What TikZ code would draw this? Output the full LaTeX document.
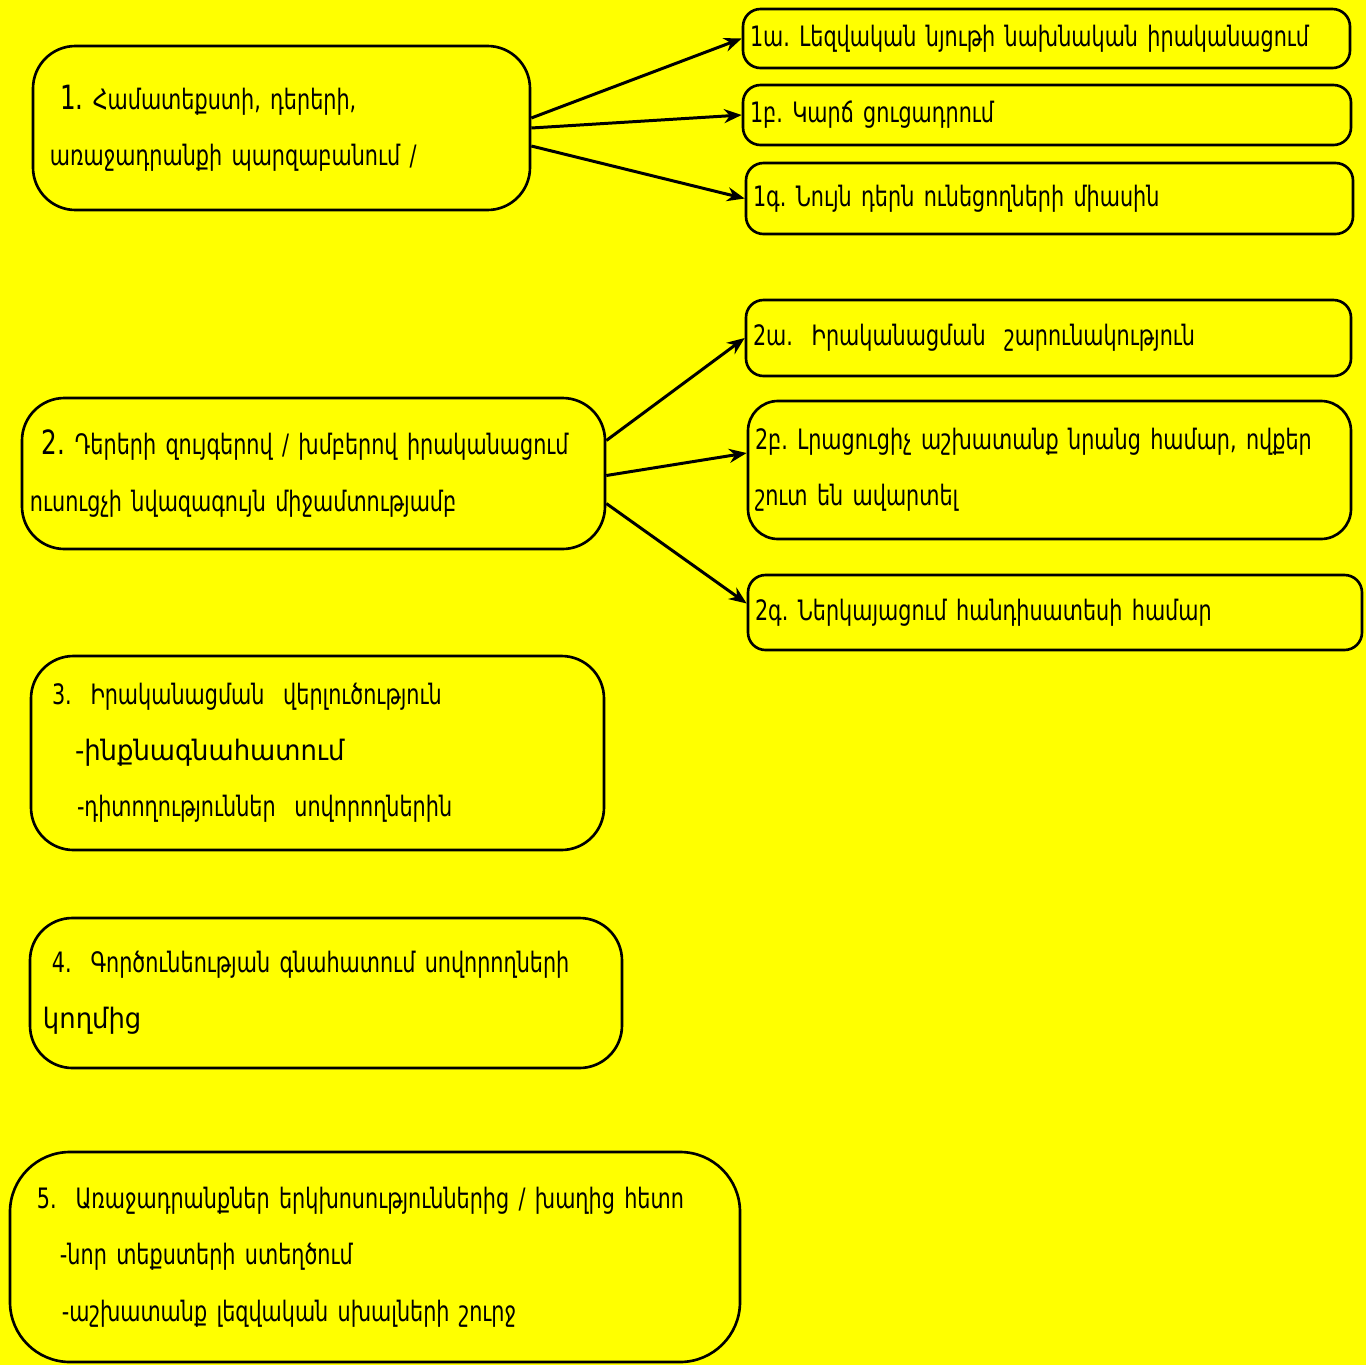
\documentclass[tikz,border=0pt]{standalone}
\usepackage{fontspec}
\setmainfont{DejaVu Sans Condensed}[FakeStretch=0.82]
\newfontfamily\widefont{DejaVu Sans}[FakeStretch=0.92]
\frenchspacing
\usepackage{tikz}
\usetikzlibrary{positioning, arrows.meta}
\definecolor{bgyellow}{RGB}{255,255,0}

\newcommand{\bignum}[1]{{\fontsize{19}{32}\selectfont #1}}

\begin{document}
\begin{tikzpicture}[
    step box/.style={rectangle, draw, line width=1.5pt, fill=bgyellow, align=left, inner ysep=0pt, font=\fontsize{16}{32}\selectfont},
    main/.style={step box, rounded corners=0.85cm},
    sub/.style={step box, rounded corners=0.35cm, inner xsep=0.14cm},
    arrow/.style={-{Stealth[length=10pt,width=8pt]}, line width=1.7pt}
]

% Background
\fill[bgyellow] (0,0) rectangle (27.32,-27.30);
\useasboundingbox (0,0) rectangle (27.32,-27.30);

% Main steps
\node[main, inner xsep=0.34cm, text width=9.26cm, minimum height=3.28cm] (b1) at (5.63,-2.56)
    {\hspace*{0.2cm}\bignum{1.} Համատեքստի, դերերի,\\առաջադրանքի պարզաբանում /};
\node[main, inner xsep=0.16cm, text width=11.34cm, minimum height=3.02cm] (b2) at (6.27,-9.47)
    {\hspace*{0.24cm}\bignum{2.} Դերերի զույգերով / խմբերով իրականացում\\ուսուցչի նվազագույն միջամտությամբ};
\node[main, inner xsep=0.42cm, text width=10.62cm, minimum height=3.88cm] (b3) at (6.35,-15.06)
    {3.\ \ Իրականացման\ \ վերլուծություն\\\hspace*{0.46cm}{\widefont -ինքնագնահատում}\\\hspace*{0.5cm}-դիտողություններ\ \ սովորողներին};
\node[main, inner xsep=0.26cm, text width=11.32cm, minimum height=3.00cm] (b4) at (6.52,-19.86)
    {\hspace*{0.18cm}4.\ \ Գործունեության գնահատում սովորողների\\{\widefont կողմից}};
\node[main, rounded corners=1.2cm, inner xsep=0.54cm, text width=13.52cm, minimum height=4.20cm] (b5) at (7.50,-25.14)
    {5.\ \ Առաջադրանքներ երկխոսություններից / խաղից հետո\\\hspace*{0.46cm}-նոր տեքստերի ստեղծում\\\hspace*{0.5cm}-աշխատանք լեզվական սխալների շուրջ};

% Sub steps
\node[sub, text width=11.86cm, minimum height=1.18cm] (b1a) at (20.93,-0.77) {1ա. Լեզվական նյութի նախնական իրականացում};
\node[sub, text width=11.88cm, minimum height=1.20cm] (b1b) at (20.94,-2.30) {1բ. Կարճ ցուցադրում};
\node[sub, text width=11.86cm, minimum height=1.42cm] (b1c) at (20.99,-3.97) {1գ. Նույն դերն ունեցողների միասին};
\node[sub, text width=11.82cm, minimum height=1.52cm] (b2a) at (20.97,-6.76) {2ա.\ \ Իրականացման\ \ շարունակություն};
\node[sub, rounded corners=0.6cm, text width=11.78cm, minimum height=2.76cm] (b2b) at (20.99,-9.40)
    {2բ. Լրացուցիչ աշխատանք նրանց համար, ովքեր\\շուտ են ավարտել};
\node[sub, text width=12.00cm, minimum height=1.50cm] (b2c) at (21.10,-12.25) {2գ. Ներկայացում հանդիսատեսի համար};

% Arrows
\draw[arrow] ([yshift=0.2cm]b1.east) -- (b1a.west);
\draw[arrow] (b1.east) -- (b1b.west);
\draw[arrow] ([yshift=-0.36cm]b1.east) -- (b1c.west);

\draw[arrow] ([yshift=0.66cm]b2.east) -- (b2a.west);
\draw[arrow] ([yshift=-0.04cm]b2.east) -- ([yshift=0.34cm]b2b.west);
\draw[arrow] ([yshift=-0.6cm]b2.east) -- ([yshift=0.18cm]b2c.west);

\end{tikzpicture}
\end{document}
